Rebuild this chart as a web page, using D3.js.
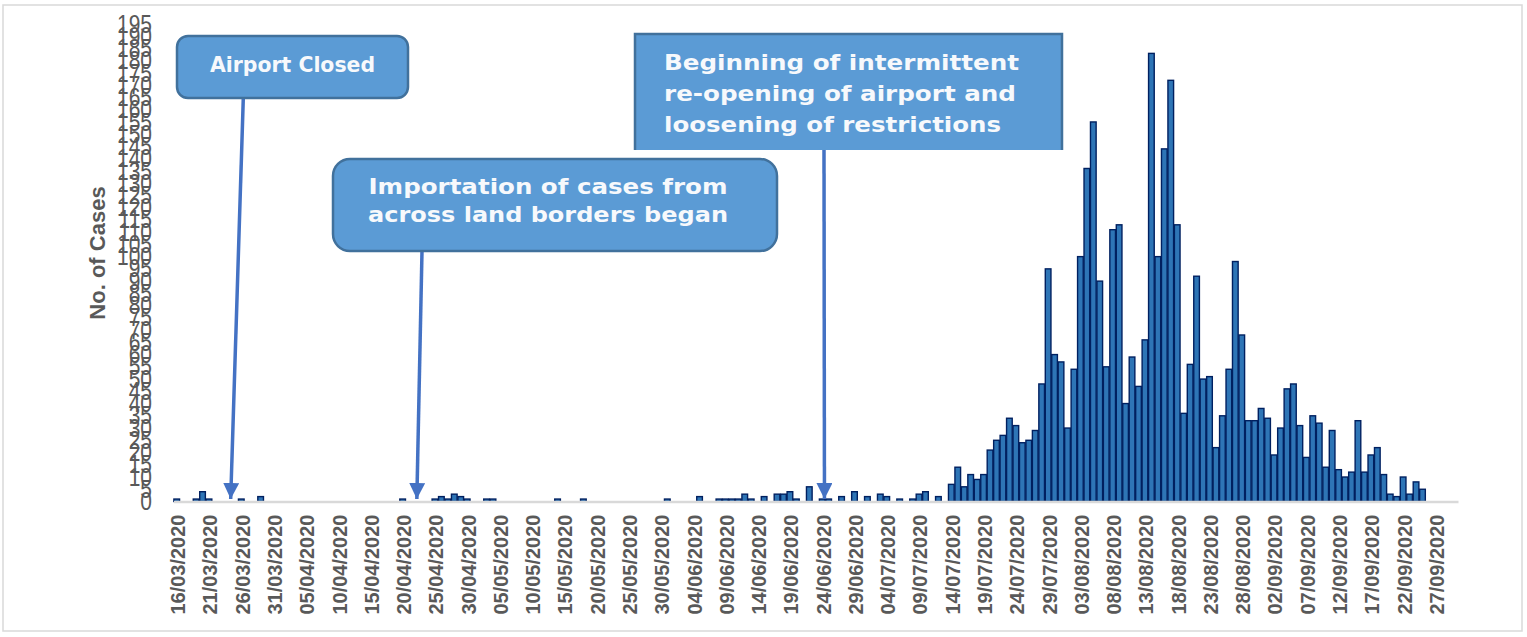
<!DOCTYPE html>
<html>
<head>
<meta charset="utf-8">
<script src="https://cdn.jsdelivr.net/npm/d3@7"></script>
<style>
  body { margin: 0; background: #fff; }
  svg { display: block; }
</style>
</head>
<body>
<script>
var width = 1527, height = 637;

// category axis runs day by day
var firstDay = "16/03/2020", lastDay = "30/09/2020";

// daily cases, starting 16/03/2020
var cases = [
  1, 0, 0, 1, 4, 1, 0, 0, 0, 0,
  1, 0, 0, 2, 0, 0, 0, 0, 0, 0,
  0, 0, 0, 0, 0, 0, 0, 0, 0, 0,
  0, 0, 0, 0, 0, 1, 0, 0, 0, 0,
  1, 2, 1, 3, 2, 1, 0, 0, 1, 1,
  0, 0, 0, 0, 0, 0, 0, 0, 0, 1,
  0, 0, 0, 1, 0, 0, 0, 0, 0, 0,
  0, 0, 0, 0, 0, 0, 1, 0, 0, 0,
  0, 2, 0, 0, 1, 1, 1, 1, 3, 1,
  0, 2, 0, 3, 3, 4, 1, 0, 6, 0,
  1, 1, 0, 2, 0, 4, 0, 2, 0, 3,
  2, 0, 1, 0, 1, 3, 4, 0, 2, 0,
  7, 14, 6, 11, 9, 11, 21, 25, 27, 34,
  31, 24, 25, 29, 48, 95, 60, 57, 30, 54,
  100, 136, 155, 90, 55, 111, 113, 40, 59, 47,
  66, 183, 100, 144, 172, 113, 36, 56, 92, 50,
  51, 22, 35, 54, 98, 68, 33, 33, 38, 34,
  19, 30, 46, 48, 31, 18, 35, 32, 14, 29,
  13, 10, 12, 33, 12, 19, 22, 11, 3, 2,
  10, 3, 8, 5
];

var tickLabels = [
  "16/03/2020", "21/03/2020", "26/03/2020", "31/03/2020", "05/04/2020",
  "10/04/2020", "15/04/2020", "20/04/2020", "25/04/2020", "30/04/2020",
  "05/05/2020", "10/05/2020", "15/05/2020", "20/05/2020", "25/05/2020",
  "30/05/2020", "04/06/2020", "09/06/2020", "14/06/2020", "19/06/2020",
  "24/06/2020", "29/06/2020", "04/07/2020", "09/07/2020", "14/07/2020",
  "19/07/2020", "24/07/2020", "29/07/2020", "03/08/2020", "08/08/2020",
  "13/08/2020", "18/08/2020", "23/08/2020", "28/08/2020", "02/09/2020",
  "07/09/2020", "12/09/2020", "17/09/2020", "22/09/2020", "27/09/2020"
];

var yTicks = d3.range(0, 200, 5);

// callout texts and where each arrow lands (in days from the axis start)
var noteAirport = ["Airport Closed"];
var noteBorders = ["Importation of cases from", "across land borders began"];
var noteReopen = ["Beginning of intermittent", "re-opening of airport and", "loosening of restrictions"];
var noteDays = [8.86, 37.7, 100.85];

var grey = "#595959";
var boxFill = "#5b9bd5", boxStroke = "#41719c", arrowCol = "#4472c4";

var parse = d3.utcParse("%d/%m/%Y"), fmt = d3.utcFormat("%d/%m/%Y");
var days = d3.utcDay.range(parse(firstDay), d3.utcDay.offset(parse(lastDay), 1)).map(fmt);

// scales
var xscale = d3.scaleBand()
      .domain(days)
      .range([173.5, 1458])
      .padding(0);

var yscale = d3.scaleLinear()
      .domain([0, 195])
      .range([501.5, 24]);

var dayX = d3.scaleLinear()
      .domain([0, days.length])
      .range(xscale.range());

var svg = d3.select("body")
      .append("svg")
      .attr("width", width)
      .attr("height", height);

// outer frame
svg.append("rect")
  .attr("x", 3).attr("y", 5)
  .attr("width", 1519).attr("height", 626)
  .attr("fill", "none")
  .attr("stroke", "#d9d9d9")
  .attr("stroke-width", 1.5);

// bars
var step = xscale.bandwidth();
svg.selectAll(".bar")
  .data(cases.map(function(v, i) { return {day: days[i], v: v}; }).filter(function(d) { return d.v > 0; }))
  .enter()
  .append("rect")
  .attr("class", "bar")
  .attr("x", function(d) { return xscale(d.day) + 0.4; })
  .attr("width", step - 0.8)
  .attr("y", function(d) { return yscale(d.v); })
  .attr("height", function(d) { return yscale(0) - yscale(d.v); })
  .attr("fill", "#2e75b6")
  .attr("stroke", "#002060")
  .attr("stroke-width", 1.4);

// x axis
var xaxis = d3.axisBottom(xscale)
      .tickValues(tickLabels)
      .tickSize(0)
      .tickSizeOuter(0);

var gx = svg.append("g")
  .attr("id", "x-axis")
  .attr("transform", "translate(0," + yscale(0) + ")")
  .call(xaxis);

gx.select(".domain")
  .attr("stroke", "#d9d9d9")
  .attr("stroke-width", 2.5);

gx.selectAll("text")
  .attr("transform", "rotate(-90)")
  .attr("x", -13)
  .attr("y", 0)
  .attr("dy", "0.42em")
  .style("text-anchor", "end")
  .style("font-family", "Liberation Sans, Arial, sans-serif")
  .style("font-weight", "bold")
  .style("font-size", "20px")
  .attr("fill", grey);

// y axis
var yaxis = d3.axisLeft(yscale)
      .tickValues(yTicks)
      .tickSize(0)
      .tickPadding(21);

var gy = svg.append("g")
  .attr("id", "y-axis")
  .attr("transform", "translate(173,0)")
  .call(yaxis);

gy.select(".domain").remove();
gy.selectAll("text")
  .attr("transform", "scale(1,1.2)")
  .style("font-family", "Liberation Sans, Arial, sans-serif")
  .style("font-size", "21px")
  .attr("fill", grey);

svg.append("text")
  .attr("transform", "translate(97,253) rotate(-90)")
  .attr("text-anchor", "middle")
  .attr("dy", "0.35em")
  .style("font-family", "Liberation Sans, Arial, sans-serif")
  .style("font-weight", "bold")
  .style("font-size", "22px")
  .attr("fill", grey)
  .text("No. of Cases");

// arrows
var defs = svg.append("defs");
defs.append("marker")
  .attr("id", "head")
  .attr("markerUnits", "userSpaceOnUse")
  .attr("markerWidth", 17).attr("markerHeight", 17)
  .attr("refX", 16).attr("refY", 8)
  .attr("orient", "auto")
  .append("path")
  .attr("d", "M0,0L16,8L0,16Z")
  .attr("fill", arrowCol);

var arrowStarts = [[243.3, 98], [422, 251], [824, 150]];
arrowStarts.forEach(function(s, i) {
  svg.append("line")
    .attr("x1", s[0]).attr("y1", s[1])
    .attr("x2", dayX(noteDays[i])).attr("y2", yscale(0) - 2.5)
    .attr("stroke", arrowCol)
    .attr("stroke-width", 3.5)
    .attr("marker-end", "url(#head)");
});

// callout boxes
function boxText(lines, x, y0, gap, anchor, lens) {
  svg.selectAll(null)
    .data(lines)
    .enter()
    .append("text")
    .attr("x", x)
    .attr("y", function(d, i) { return y0 + i * gap; })
    .attr("text-anchor", anchor)
    .attr("textLength", function(d, i) { return lens[i]; })
    .attr("lengthAdjust", "spacingAndGlyphs")
    .style("font-family", "DejaVu Sans, sans-serif")
    .style("font-weight", "bold")
    .style("font-size", "21px")
    .attr("fill", "#f7f9fc")
    .text(function(d) { return d; });
}

svg.append("rect")
  .attr("x", 177).attr("y", 36)
  .attr("width", 231).attr("height", 62)
  .attr("rx", 11)
  .attr("fill", boxFill)
  .attr("stroke", boxStroke)
  .attr("stroke-width", 2.5);
boxText(noteAirport, 292.5, 72, 0, "middle", [165]);

svg.append("rect")
  .attr("x", 333).attr("y", 159)
  .attr("width", 444).attr("height", 92)
  .attr("rx", 17)
  .attr("fill", boxFill)
  .attr("stroke", boxStroke)
  .attr("stroke-width", 2.5);
boxText(noteBorders, 548, 194, 28, "middle", [359, 360]);

svg.append("rect")
  .attr("x", 635).attr("y", 34)
  .attr("width", 427).attr("height", 116)
  .attr("fill", boxFill);
svg.append("path")
  .attr("d", "M635,150V34H1062V150")
  .attr("fill", "none")
  .attr("stroke", boxStroke)
  .attr("stroke-width", 2.5);
boxText(noteReopen, 664, 70, 31, "start", [355, 352, 337]);
</script>
</body>
</html>
